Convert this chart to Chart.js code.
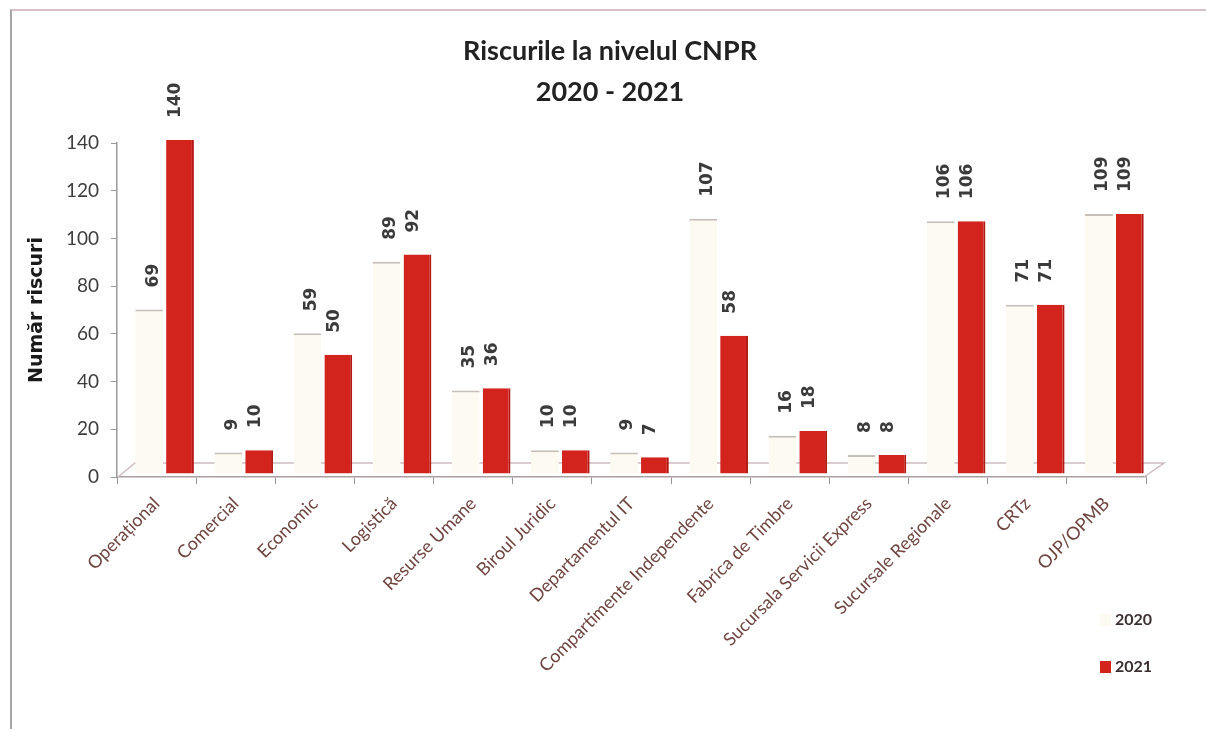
<!DOCTYPE html>
<html>
<head>
<meta charset="utf-8">
<script src="https://cdn.jsdelivr.net/npm/chart.js@4.4.1/dist/chart.umd.min.js"></script>
<style>
  html, body { margin: 0; padding: 0; background: #fff; }
  #wrap { position: relative; width: 1206px; height: 729px; }
  #frame {
    position: absolute; left: 10px; top: 9px; right: 0; bottom: 0;
    border-top: 2px solid #d8bfc8; border-left: 2px solid #a6a6a6;
    pointer-events: none;
  }
</style>
</head>
<body>
<div id="wrap">
  <canvas id="chart" width="1206" height="729"></canvas>
  <div id="frame"></div>
</div>
<script>
const categories = [
  'Operațional', 'Comercial', 'Economic', 'Logistică', 'Resurse Umane',
  'Biroul Juridic', 'Departamentul IT', 'Compartimente Independente',
  'Fabrica de Timbre', 'Sucursala Servicii Express', 'Sucursale Regionale',
  'CRTz', 'OJP/OPMB'
];
const values2020 = [69, 9, 59, 89, 35, 10, 9, 107, 16, 8, 106, 71, 109];
const values2021 = [140, 10, 50, 92, 36, 10, 7, 58, 18, 8, 106, 71, 109];
const yTicks = [0, 20, 40, 60, 80, 100, 120, 140];

// shift used to fake the 3D depth of the old excel chart
const depth = { x: 8, y: -3 };

const floor3d = {
  id: 'floor3d',
  beforeDatasetsDraw(chart) {
    const { ctx, chartArea: a } = chart;
    ctx.save();
    ctx.strokeStyle = '#cdbdc1';
    ctx.lineWidth = 1.5;
    ctx.beginPath();
    ctx.moveTo(a.left + 1, a.bottom);
    ctx.lineTo(a.left + 18, a.bottom - 14);
    ctx.lineTo(a.right + 18, a.bottom - 14);
    ctx.lineTo(a.right - 2, a.bottom);
    ctx.stroke();
    ctx.restore();
    ctx.save();
    ctx.translate(depth.x, depth.y);
  },
  afterDatasetsDraw(chart) {
    chart.ctx.restore();
    const { ctx } = chart;
    ctx.save();
    ctx.font = 'bold 17px "DejaVu Sans"';
    ctx.fillStyle = '#3b3b3b';
    ctx.textAlign = 'left';
    ctx.textBaseline = 'middle';
    chart.data.datasets.forEach((ds, i) => {
      const nudge = i === 0 ? 4 : -4;
      chart.getDatasetMeta(i).data.forEach((bar, j) => {
        ctx.save();
        ctx.translate(bar.x + depth.x + nudge, bar.y + depth.y - 22);
        ctx.rotate(-Math.PI / 2);
        ctx.fillText(ds.data[j], 0, 0);
        ctx.restore();
      });
    });
    ctx.restore();
  }
};

const sideLegend = {
  id: 'sideLegend',
  afterDraw(chart) {
    const { ctx } = chart;
    ctx.save();
    ctx.font = 'bold 16px Lato';
    ctx.textBaseline = 'middle';
    chart.data.datasets.forEach((ds, i) => {
      const y = 620 + i * 47;
      ctx.fillStyle = ds.backgroundColor;
      ctx.fillRect(1100, y - 6, 11, 12);
      ctx.fillStyle = '#3a3030';
      ctx.fillText(ds.label, 1115, y);
    });
    ctx.restore();
  }
};

new Chart(document.getElementById('chart'), {
  type: 'bar',
  data: {
    labels: categories,
    datasets: [
      {
        label: '2020',
        data: values2020,
        backgroundColor: '#fdfaf1',
        borderColor: '#c6bfb9',
        borderWidth: { top: 2, left: 0, right: 0, bottom: 0 },
        borderSkipped: false,
        categoryPercentage: 0.78,
        barPercentage: 0.9
      },
      {
        label: '2021',
        data: values2021,
        backgroundColor: '#d3231d',
        borderColor: '#b41a15',
        borderWidth: { top: 0, left: 0, right: 2, bottom: 0 },
        borderSkipped: false,
        categoryPercentage: 0.78,
        barPercentage: 0.9
      }
    ]
  },
  options: {
    responsive: false,
    devicePixelRatio: 1,
    animation: false,
    layout: { padding: { left: 20, right: 6, top: 31, bottom: 0 } },
    plugins: {
      legend: { display: false },
      tooltip: { enabled: false },
      title: {
        display: true,
        text: ['Riscurile la nivelul CNPR', '2020 - 2021'],
        color: '#222',
        font: { family: 'Lato', size: 27, weight: 'bold', lineHeight: 1.52 },
        padding: { top: 0, bottom: 30 }
      }
    },
    scales: {
      x: {
        grid: { drawOnChartArea: false, offset: true, tickLength: 7, color: '#9d9193' },
        border: { color: '#a99ea0', width: 1.5 },
        ticks: {
          autoSkip: false, minRotation: 45, maxRotation: 45, padding: 9,
          color: '#6f4540', font: { family: 'Lato', size: 18 }
        },
        afterFit: s => { s.height = 729 - 477; }
      },
      y: {
        min: 0,
        max: 140,
        afterBuildTicks: s => { s.ticks = yTicks.map(v => ({ value: v })); },
        grid: { drawOnChartArea: false, tickLength: 6, color: '#9a9a9a' },
        border: { color: '#9a9a9a', width: 1.5 },
        ticks: { padding: 12, color: '#3d3d3d', font: { family: 'Lato', size: 19 } },
        title: {
          display: true,
          text: 'Număr riscuri',
          color: '#1a1a1a',
          font: { family: 'DejaVu Sans', size: 19, weight: 'bold' },
          padding: { top: 6, bottom: 4 }
        },
        afterFit: s => { s.width = 117 - 20; }
      },
      yRight: {
        position: 'right',
        grid: { display: false },
        border: { display: false },
        ticks: { display: false },
        afterFit: s => { s.width = 54; }
      }
    }
  },
  plugins: [floor3d, sideLegend]
});
</script>
</body>
</html>
